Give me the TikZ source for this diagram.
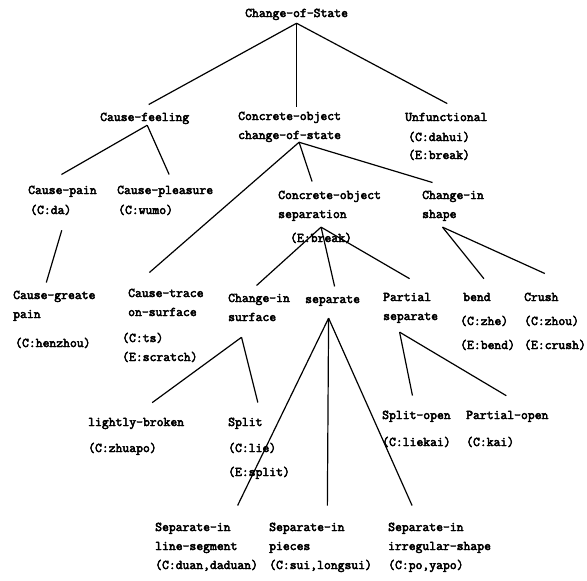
\documentclass[tikz,border=0pt]{standalone}
\usepackage{fontspec}
\newfontfamily\cptfont[FakeBold=3.5]{Latin Modern Mono}
\tikzset{
  cpt/.style={font=\cptfont\fontsize{13.3}{19}\selectfont, align=left, anchor=base west, inner sep=3pt},
  lbl/.style={cpt},
  arc/.style={line width=1.2pt}
}
\begin{document}
\begin{tikzpicture}[x=1pt,y=-1pt]
\useasboundingbox (0,0) rectangle (587,581);
% level 0 and 1
\node[cpt] (root) at (242,17) {Change-of-State};
\node[cpt] (cf) at (97,121) {Cause-feeling};
\node[cpt] (co) at (235,139) {Concrete-object\\change-of-state};
\node[cpt] (un) at (402,121) {Unfunctional};
\node[lbl] (unC) at (405,141) {(C:dahui)};
\node[lbl] (unE) at (405,159) {(E:break)};
% level 2
\node[cpt] (cp) at (25,194) {Cause-pain};
\node[lbl] (cpC) at (27,214) {(C:da)};
\node[cpt] (cpl) at (114,194) {Cause-pleasure};
\node[lbl] (cplC) at (115,214) {(C:wumo)};
\node[cpt] (cos) at (275,218) {Concrete-object\\separation};
\node[lbl] (cosE) at (287,242) {(E:break)};
\node[cpt] (cis) at (419,218) {Change-in\\shape};
% level 3
\node[cpt] (cgp) at (10,318) {Cause-greate\\pain};
\node[lbl] (cgpC) at (12,347) {(C:henzhou)};
\node[cpt] (ctr) at (125,316) {Cause-trace\\on-surface};
\node[lbl] (ctrC) at (119,342) {(C:ts)};
\node[lbl] (ctrE) at (119,361) {(E:scratch)};
\node[cpt] (cisf) at (225,321) {Change-in\\surface};
\node[cpt] (sep) at (302,303) {separate};
\node[cpt] (ps) at (380,320) {Partial\\separate};
\node[cpt] (bend) at (460,301) {bend};
\node[lbl] (bendC) at (457,325) {(C:zhe)};
\node[lbl] (bendE) at (457,349) {(E:bend)};
\node[cpt] (crush) at (521,301) {Crush};
\node[lbl] (crushC) at (521,325) {(C:zhou)};
\node[lbl] (crushE) at (521,349) {(E:crush)};
% level 4
\node[cpt] (lb) at (85,426) {lightly-broken};
\node[lbl] (lbC) at (85,452) {(C:zhuapo)};
\node[cpt] (spl) at (225,426) {Split};
\node[lbl] (splC) at (225,452) {(C:lie)};
\node[lbl] (splE) at (225,476) {(E:split)};
\node[cpt] (so) at (379,419) {Split-open};
\node[lbl] (soC) at (379,446) {(C:liekai)};
\node[cpt] (po) at (463,419) {Partial-open};
\node[lbl] (poC) at (463,446) {(C:kai)};
% level 5
\node[cpt] (sl) at (152,550) {Separate-in\\line-segment};
\node[lbl] (slC) at (152,569) {(C:duan,daduan)};
\node[cpt] (sp) at (266,550) {Separate-in\\pieces};
\node[lbl] (spC) at (266,569) {(C:sui,longsui)};
\node[cpt] (si) at (385,550) {Separate-in\\irregular-shape};
\node[lbl] (siC) at (385,569) {(C:po,yapo)};
% connectors
\draw[arc] (root.south)--([shift={(4,-5)}]cf.north);
\draw[arc] (root.south)--([shift={(7,-2)}]co.north);
\draw[arc] (root.south)--([shift={(1,-6)}]un.north);
\draw[arc] ([shift={(2.5,-2)}]cf.south)--([shift={(-1,-8)}]cp.north);
\draw[arc] ([shift={(2.5,-2)}]cf.south)--([shift={(4,-8)}]cpl.north);
\draw[arc] ([shift={(11,12)}]cpC.south)--([shift={(-8,-5)}]cgp.north);
\draw[arc] ([shift={(9.5,-3)}]co.south)--([shift={(-16.5,-13)}]ctr.north);
\draw[arc] ([shift={(9.5,-3)}]co.south)--([shift={(-17.5,-6)}]cos.north);
\draw[arc] ([shift={(9.5,-3)}]co.south)--([shift={(-20.5,-5)}]cis.north);
\draw[arc] ([shift={(-8.5,3)}]cos.south)--([shift={(-2.5,-5)}]cisf.north);
\draw[arc] ([shift={(-8.5,3)}]cos.south)--([shift={(2,-6)}]sep.north);
\draw[arc] ([shift={(-8.5,3)}]cos.south)--([shift={(-1,-11)}]ps.north);
\draw[arc] ([shift={(-10.5,3)}]cis.south)--([shift={(7,-11)}]bend.north);
\draw[arc] ([shift={(-10.5,3)}]cis.south)--([shift={(3.5,-16)}]crush.north);
\draw[arc] ([shift={(-17.5,13)}]cisf.south)--([shift={(16,-12)}]lb.north);
\draw[arc] ([shift={(-17.5,13)}]cisf.south)--([shift={(12.5,-12)}]spl.north);
\draw[arc] ([shift={(-11,6)}]ps.south)--([shift={(-4,-12)}]so.north);
\draw[arc] ([shift={(-11,6)}]ps.south)--([shift={(-1,-12)}]po.north);
\draw[arc] ([shift={(-4,9)}]sep.south)--([shift={(-3,-14)}]sl.north east);
\draw[arc] ([shift={(-4,9)}]sep.south)--([shift={(20.5,-14)}]sp.north);
\draw[arc] ([shift={(-4,9)}]sep.south)--([shift={(-27.5,-14)}]si.north);
\end{tikzpicture}
\end{document}
